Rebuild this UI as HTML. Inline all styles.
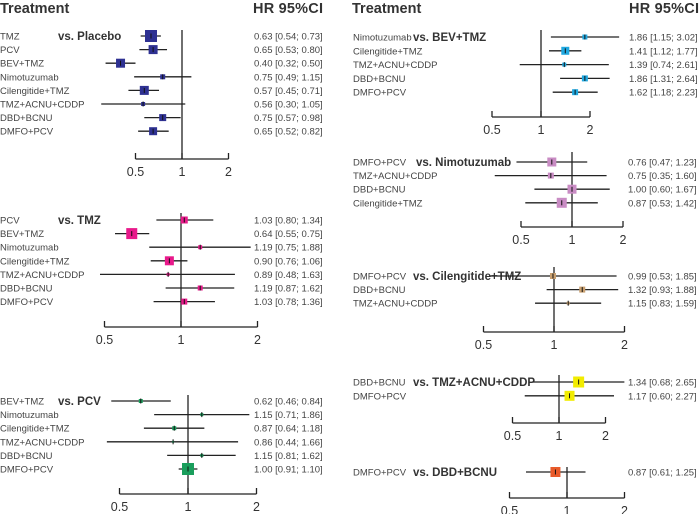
<!DOCTYPE html>
<html><head><meta charset="utf-8"><style>
html,body{margin:0;padding:0;background:#fff;}
svg{display:block;font-family:"Liberation Sans",Arial,sans-serif;}
</style></head><body>
<svg id="chart" width="700" height="514" viewBox="0 0 700 514">
<text x="0" y="13" font-size="14.5" font-weight="bold" fill="#333">Treatment</text>
<text x="253" y="13" font-size="14.5" font-weight="bold" fill="#333" textLength="70">HR 95%CI</text>
<text x="352" y="13" font-size="14.5" font-weight="bold" fill="#333">Treatment</text>
<text x="629" y="13" font-size="14.5" font-weight="bold" fill="#333" textLength="70">HR 95%CI</text>
</svg>
<script>
// ---- data ----
const comparators = ["Placebo","TMZ","PCV","BEV+TMZ","Nimotuzumab","Cilengitide+TMZ","TMZ+ACNU+CDDP","DBD+BCNU"];
const colors = ["#2e3192","#e8198b","#1a9e5c","#1fa8e0","#c98cc4","#c9a070","#f2ec00","#e85a2a"];
const treatments = [
 ["TMZ","PCV","BEV+TMZ","Nimotuzumab","Cilengitide+TMZ","TMZ+ACNU+CDDP","DBD+BCNU","DMFO+PCV"],
 ["PCV","BEV+TMZ","Nimotuzumab","Cilengitide+TMZ","TMZ+ACNU+CDDP","DBD+BCNU","DMFO+PCV"],
 ["BEV+TMZ","Nimotuzumab","Cilengitide+TMZ","TMZ+ACNU+CDDP","DBD+BCNU","DMFO+PCV"],
 ["Nimotuzumab","Cilengitide+TMZ","TMZ+ACNU+CDDP","DBD+BCNU","DMFO+PCV"],
 ["DMFO+PCV","TMZ+ACNU+CDDP","DBD+BCNU","Cilengitide+TMZ"],
 ["DMFO+PCV","DBD+BCNU","TMZ+ACNU+CDDP"],
 ["DBD+BCNU","DMFO+PCV"],
 ["DMFO+PCV"]
];
const hrValues = [
 [0.63,0.65,0.40,0.75,0.57,0.56,0.75,0.65],
 [1.03,0.64,1.19,0.90,0.89,1.19,1.03],
 [0.62,1.15,0.87,0.86,1.15,1.00],
 [1.86,1.41,1.39,1.86,1.62],
 [0.76,0.75,1.00,0.87],
 [0.99,1.32,1.15],
 [1.34,1.17],
 [0.87]
];
const ciLower = [
 [0.54,0.53,0.32,0.49,0.45,0.30,0.57,0.52],
 [0.80,0.55,0.75,0.76,0.48,0.87,0.78],
 [0.46,0.71,0.64,0.44,0.81,0.91],
 [1.15,1.12,0.74,1.31,1.18],
 [0.47,0.35,0.60,0.53],
 [0.53,0.93,0.83],
 [0.68,0.60],
 [0.61]
];
const ciUpper = [
 [0.73,0.80,0.50,1.15,0.71,1.05,0.98,0.82],
 [1.34,0.75,1.88,1.06,1.63,1.62,1.36],
 [0.84,1.86,1.18,1.66,1.62,1.10],
 [3.02,1.77,2.61,2.64,2.23],
 [1.23,1.60,1.67,1.42],
 [1.85,1.88,1.59],
 [2.65,2.27],
 [1.25]
];
const weights = [
 [12,9,9,5,9,4,7,8],
 [7,11,4,9,3,5,6],
 [4,3,4,2,3,12],
 [5,8,4,6,6],
 [9,6,9,10],
 [6,6,3],
 [11,10],
 [10]
];
const tickValues = [0.5,1,2];
const tickLabels = ["0.5","1","2"];

// ---- layout (geometry only) ----
const layout = [
 {lx:0,  hx:254,row0:36, dy:13.6,x0:136,x1:182,x2:229,top:30, ay:159,vsx:58},
 {lx:0,  hx:254,row0:220,dy:13.6,x0:105,x1:181,x2:258,top:213,ay:327,vsx:58},
 {lx:0,  hx:254,row0:401,dy:13.6,x0:119,x1:188,x2:256,top:395,ay:494,vsx:58},
 {lx:353,hx:629,row0:37, dy:13.8,x0:493,x1:541,x2:591,top:30, ay:117,vsx:413},
 {lx:353,hx:628,row0:162,dy:13.6,x0:521,x1:572,x2:623,top:152,ay:227,vsx:416},
 {lx:353,hx:628,row0:276,dy:13.6,x0:484,x1:554,x2:625,top:267,ay:332,vsx:413},
 {lx:353,hx:628,row0:382,dy:13.8,x0:513,x1:559,x2:606,top:375,ay:423,vsx:413},
 {lx:353,hx:628,row0:472,dy:13.6,x0:509,x1:567,x2:624,top:467,ay:498,vsx:413}
];
const NS="http://www.w3.org/2000/svg";
const svg=document.getElementById('chart');
function mk(tag,attrs,parent){const e=document.createElementNS(NS,tag);for(const k in attrs)e.setAttribute(k,attrs[k]);(parent||svg).appendChild(e);return e;}
function fmt(v){return v.toFixed(2);}

comparators.forEach((comp,p)=>{
  const L=layout[p];
  const xScale=v=>L.x1+(L.x2-L.x0)/2*Math.log2(v);
  const g=mk('g',{});
  
  
  const ref=mk('line',{x1:xScale(1),x2:xScale(1),y1:L.top,y2:L.ay,stroke:'#222','stroke-width':1.3},g);
  
  
  const ax=mk('line',{x1:xScale(tickValues[0]),x2:xScale(tickValues[tickValues.length-1]),y1:L.ay,y2:L.ay,stroke:'#222','stroke-width':1.3},g);
  
  
  tickValues.forEach((t,i)=>{
    const tk=mk('line',{x1:xScale(t),x2:xScale(t),y1:L.ay-6,y2:L.ay,stroke:'#222','stroke-width':1.3},g);
    
    
    const tl=mk('text',{x:xScale(t),y:L.ay+17,'font-size':12.5,'text-anchor':'middle',fill:'#333'},g);
    tl.textContent=tickLabels[i];
    
    
  });
  const vs=mk('text',{x:L.vsx,y:L.row0+4,'font-size':11.5,'font-weight':'bold',fill:'#333'},g);
  vs.textContent='vs.  '+comp;
  vs.setAttribute('xml:space','preserve');
  
  
  treatments[p].forEach((tr,i)=>{
    const y=L.row0+i*L.dy;
    const lab=mk('text',{x:L.lx,y:y+3.5,'font-size':9.5,fill:'#444'},g);
    lab.textContent=tr;
    
    
    const ci=mk('line',{x1:xScale(ciLower[p][i]),x2:xScale(ciUpper[p][i]),y1:y,y2:y,stroke:'#222','stroke-width':1.3},g);
    
    
    const w=weights[p][i];
    const cx=xScale(hrValues[p][i]);
    const sq=mk('rect',{x:cx-w/2,y:y-w/2,width:w,height:w,fill:colors[p]},g);
    
    
    const tk=mk('line',{x1:cx,x2:cx,y1:y-2.5,y2:y+2.5,stroke:'#111','stroke-width':1},g);
    
    
    const ht=mk('text',{x:L.hx,y:y+3.5,'font-size':9.5,fill:'#444'},g);
    ht.textContent=fmt(hrValues[p][i])+'  ['+fmt(ciLower[p][i])+'; '+fmt(ciUpper[p][i])+']';
    ht.setAttribute('xml:space','preserve');
    
    
  });
});
</script>
</body></html>
